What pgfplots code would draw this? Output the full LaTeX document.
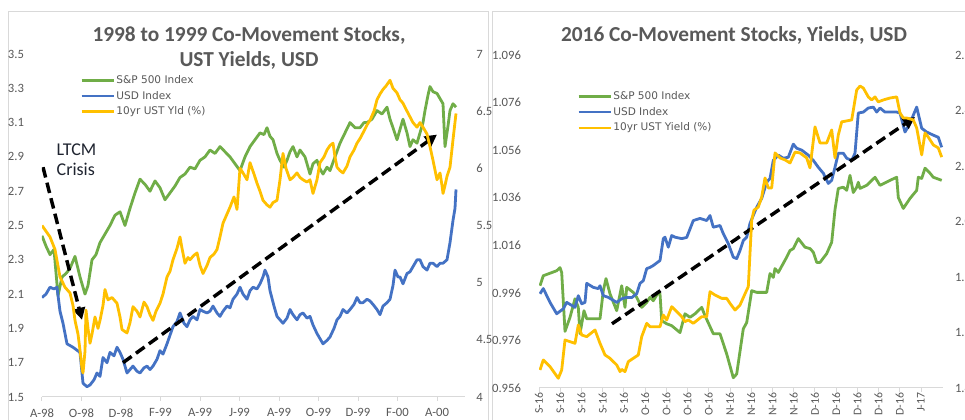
\documentclass[border=0pt]{standalone}
\usepackage{fontspec}
\setmainfont{Carlito}
\newfontfamily\legfont{DejaVu Sans}
\usepackage{pgfplots}
\pgfplotsset{compat=1.18}
\usetikzlibrary{arrows.meta}
\definecolor{spgreen}{HTML}{70AD47}
\definecolor{usdblue}{HTML}{4472C4}
\definecolor{yldorange}{HTML}{FFC000}
\definecolor{txtgray}{HTML}{595959}
\definecolor{axgray}{HTML}{D9D9D9}
\definecolor{annot}{HTML}{1F2430}

\pgfplotsset{
  base/.style={
    scale only axis,
    anchor=south west,
    tick label style={font=\fontsize{9.5}{11}\selectfont, text=txtgray},
    /pgf/number format/assume math mode=true,
    tick align=outside,
    major tick length=3pt,
    xtick style={draw=axgray, line width=0.75pt},
    ytick style={draw=none},
    axis line style={draw=axgray, line width=0.75pt},
    every axis plot/.append style={line width=2.1pt, line join=round, mark=none},
    legend style={draw=none, fill=none, font=\legfont\fontsize{7.9}{9}\selectfont, text=txtgray,
      legend cell align=left, inner sep=0pt, row sep=2.4pt,
      nodes={inner sep=1pt, text height=6pt, text depth=1.5pt}},
    legend image code/.code={\draw[#1, line width=2.1pt] (0pt,0pt) -- (24pt,0pt);},
  },
  leftpanel/.style={base, at={(31.5pt,17.25pt)}, width=317.25pt, height=257.25pt, xmin=0, xmax=423},
  rightpanel/.style={base, at={(404.25pt,24pt)}, width=303pt, height=249.75pt, xmin=0, xmax=404},
  fmt/.style={/pgf/number format/fixed, /pgf/number format/fixed zerofill, /pgf/number format/precision=#1},
}

\begin{document}
\begin{tikzpicture}
\useasboundingbox (0pt,0pt) rectangle (723.75pt,315pt);
\clip (0pt,0pt) rectangle (723.75pt,315pt);
\fill[white] (0pt,0pt) rectangle (723.75pt,315pt);
\begin{scope}[x=0.75pt,y=0.75pt]
\draw[axgray, line width=0.75pt] (8,-10) rectangle (488,408);
\draw[axgray, line width=0.75pt] (492,-10) rectangle (1000,408);
\node[font=\bfseries\fontsize{16}{18.75}\selectfont, text=txtgray, align=center] at (249,372.5)
  {1998 to 1999 Co-Movement Stocks,\\UST Yields, USD};
\node[font=\bfseries\fontsize{16}{18.75}\selectfont, text=txtgray] at (734,385) {2016 Co-Movement Stocks, Yields, USD};
\node[font=\fontsize{13.5}{15}\selectfont, text=annot, align=left, anchor=north west] at (52,281) {LTCM\\Crisis};
\end{scope}

% ---------------- Left panel ----------------
\begin{axis}[leftpanel,
  ymin=1.5, ymax=3.5,
  axis x line*=bottom, axis y line*=left, y axis line style={draw=none},
  ytick={1.5,1.7,1.9,2.1,2.3,2.5,2.7,2.9,3.1,3.3,3.5},
  y tick label style={fmt=1, xshift=-7pt},
  xtick={0,39.5,79,118.5,158,197.5,237,276.5,316,355.5,395},
  xticklabels={A-98,O-98,D-98,F-99,A-99,J-99,A-99,O-99,D-99,F-00,A-00},
  x tick label style={yshift=-2pt},
  legend style={at={(0.09,0.943)}, anchor=north west},
]
\addplot[spgreen] coordinates {
(0,2.44)(4,2.38)(8,2.33)(12,2.36)(16,2.09)(20,2.2)(24,2.22)(28,2.25)(33,2.32)(38,2.2)
(43,2.1)(46,2.15)(50,2.3)(54,2.33)(58,2.4)(63,2.45)(68,2.5)(73,2.56)(78,2.58)(83,2.5)
(88,2.6)(93,2.69)(98,2.77)(103,2.74)(108,2.7)(113,2.76)(118,2.72)(123,2.65)(128,2.69)(133,2.73)
(138,2.78)(143,2.8)(148,2.84)(153,2.83)(158,2.88)(163,2.9)(168,2.94)(173,2.92)(178,2.96)(183,2.93)
(188,2.9)(193,2.86)(198,2.82)(203,2.9)(208,2.96)(213,3.0)(218,3.04)(222,3.03)(225,3.07)(228,3.02)
(231,3.0)(235,2.92)(238,2.88)(242,2.84)(245,2.88)(248,2.93)(251,2.96)(255,2.9)(258,2.94)(263,2.9)
(268,2.8)(271,2.86)(275,2.88)(278,2.83)(281,2.8)(285,2.84)(288,2.82)(293,2.9)(298,2.98)(303,3.04)
(308,3.1)(313,3.07)(318,3.07)(322,3.1)(325,3.1)(330,3.12)(335,3.17)(340,3.15)(345,3.19)(348,3.12)
(351,3.07)(355,3.0)(358,3.06)(361,3.12)(365,3.04)(368,2.96)(371,3.0)(375,2.98)(378,3.04)(381,3.1)
(383,3.17)(386,3.26)(388,3.31)(391,3.28)(395,3.27)(398,3.24)(401,3.21)(403,2.96)(406,3.08)(408,3.17)
(411,3.21)(414,3.19)};
\addlegendentry{S\&P 500 Index}
\addplot[usdblue] coordinates {
(0,2.08)(4,2.1)(8,2.14)(12,2.13)(15,2.14)(18,2.0)(21,1.93)(25,1.81)(31,1.79)(38,1.76)
(41,1.58)(45,1.56)(48,1.57)(52,1.6)(55,1.64)(58,1.62)(61,1.73)(65,1.7)(68,1.76)(72,1.74)
(75,1.79)(78,1.76)(81,1.72)(85,1.64)(88,1.66)(91,1.68)(95,1.65)(98,1.64)(102,1.67)(105,1.68)
(108,1.66)(111,1.68)(115,1.72)(118,1.77)(121,1.75)(125,1.81)(128,1.86)(131,1.91)(135,1.94)(138,1.99)
(142,1.93)(145,1.91)(148,1.95)(151,1.97)(155,1.95)(158,2.01)(161,2.0)(165,1.99)(168,2.0)(171,2.03)
(175,1.99)(178,1.97)(181,2.0)(185,2.03)(188,2.02)(191,2.07)(195,2.1)(198,2.14)(201,2.1)(205,2.07)
(208,2.12)(211,2.14)(215,2.13)(218,2.16)(221,2.2)(223,2.24)(226,2.2)(228,2.12)(232,2.03)(235,1.97)
(238,1.95)(241,1.93)(245,1.96)(248,2.01)(251,1.98)(255,1.95)(258,1.98)(261,1.99)(265,1.96)(268,1.97)
(271,1.92)(275,1.87)(278,1.84)(281,1.81)(285,1.83)(288,1.85)(292,1.9)(295,1.95)(298,1.97)(301,2.01)
(305,1.99)(308,2.01)(312,2.04)(315,2.08)(318,2.05)(321,2.05)(325,2.07)(328,2.06)(331,2.04)(335,2.01)
(338,1.98)(341,2.03)(345,2.05)(348,2.07)(351,2.15)(353,2.24)(356,2.2)(358,2.2)(361,2.16)(365,2.22)
(368,2.23)(371,2.26)(375,2.3)(378,2.3)(381,2.26)(385,2.24)(388,2.28)(391,2.28)(395,2.26)(398,2.28)
(401,2.28)(405,2.3)(408,2.4)(411,2.53)(413,2.6)(414,2.71)};
\addlegendentry{USD Index}
\addlegendimage{yldorange}
\addlegendentry{10yr UST Yld (\%)}
\draw[black, line width=2.6pt, dash pattern=on 8pt off 4pt, -{Triangle[length=9pt,width=9pt]}]
  (axis cs:1,2.84) -- (axis cs:40,1.95);
\draw[black, line width=2.6pt, dash pattern=on 8pt off 4pt, -{Triangle[length=9pt,width=9pt]}]
  (axis cs:81,1.70) -- (axis cs:395,3.03);
\end{axis}
\begin{axis}[leftpanel,
  ymin=4, ymax=7,
  axis x line=none, axis y line*=right, y axis line style={draw=none},
  ytick={4,4.5,5,5.5,6,6.5,7},
  y tick label style={xshift=2pt},
]
\addplot[yldorange] coordinates {
(0,5.5)(4,5.45)(8,5.4)(13,5.29)(18,5.05)(23,4.96)(28,4.91)(31,4.8)(33,4.67)(36,4.55)
(38,4.41)(40,4.25)(41,4.21)(43,4.4)(44,4.76)(46,4.6)(48,4.47)(50,4.55)(53,4.7)(56,4.6)
(58,4.67)(61,4.8)(63,4.94)(66,4.85)(70,4.87)(75,4.82)(78,4.7)(80,4.59)(85,4.56)(88,4.65)
(91,4.79)(95,4.75)(98,4.7)(102,4.83)(105,4.79)(108,4.72)(111,4.67)(114,4.75)(118,4.82)(121,4.9)
(125,5.05)(128,5.1)(131,5.2)(135,5.3)(138,5.4)(140,5.3)(143,5.17)(146,5.22)(148,5.2)(152,5.24)
(155,5.26)(158,5.15)(161,5.08)(165,5.15)(168,5.22)(172,5.25)(175,5.29)(178,5.4)(181,5.52)(185,5.6)
(188,5.66)(192,5.75)(195,5.64)(198,6.0)(201,5.96)(205,5.9)(208,6.05)(212,5.95)(215,5.87)(218,5.8)
(221,5.72)(225,5.68)(228,5.66)(231,5.7)(235,5.72)(238,5.9)(241,6.13)(244,6.0)(248,5.9)(251,5.92)
(255,5.96)(258,5.92)(261,5.9)(265,5.88)(268,5.9)(271,5.78)(275,5.9)(278,6.05)(282,6.1)(285,6.16)
(288,6.2)(291,6.22)(293,6.1)(295,6.01)(298,5.98)(301,5.96)(305,6.02)(308,6.1)(312,6.16)(315,6.22)
(318,6.26)(321,6.31)(325,6.38)(328,6.42)(332,6.5)(335,6.6)(338,6.65)(341,6.69)(344,6.72)(348,6.77)
(351,6.7)(355,6.66)(358,6.6)(361,6.57)(365,6.5)(368,6.45)(371,6.4)(375,6.36)(378,6.4)(381,6.36)
(385,6.3)(388,6.19)(391,6.07)(395,5.9)(398,5.96)(400,5.85)(401,5.78)(403,5.85)(405,5.93)(408,6.01)
(411,6.25)(414,6.48)};
\end{axis}

% ---------------- Right panel ----------------
\begin{axis}[rightpanel,
  ymin=0.956, ymax=1.096,
  axis x line*=bottom, axis y line*=left, y axis line style={draw=none},
  ytick={0.956,0.976,0.996,1.016,1.036,1.056,1.076,1.096},
  y tick label style={fmt=3, xshift=-7pt},
  xtick={0,21.22,42.44,63.67,84.89,106.11,127.33,148.56,169.78,191,212.22,233.44,254.67,275.89,297.11,318.33,339.56,360.78,382},
  xticklabels={S-16,S-16,S-16,S-16,S-16,O-16,O-16,O-16,O-16,N-16,N-16,N-16,N-16,D-16,D-16,D-16,D-16,D-16,J-17},
  x tick label style={yshift=3pt, rotate=90, anchor=east, font=\fontsize{8.8}{10}\selectfont},
  legend style={at={(0.094,0.896)}, anchor=north west},
]
\addplot[spgreen] coordinates {
(1,0.999)(4.3,1.0032)(17.7,1.0053)(21,1.0066)(22.7,1.0045)(26,0.9798)(31,0.9857)(36,0.9935)(39.3,0.9899)(41,0.9788)
(45,0.9885)(47.7,0.9851)(61,0.9851)(64.3,0.9969)(67,1.002)(71,0.9956)(77.7,0.9885)(82.7,0.999)(86,0.9899)(87.7,0.9983)
(94.3,0.9962)(97.7,0.9941)(102.7,0.9899)(107.7,0.992)(111,0.9941)(114.3,0.9927)(119.3,0.9962)(121,0.9956)(122.7,0.9843)(127.7,0.983)
(132.7,0.9822)(141,0.9793)(146,0.9872)(151,0.9857)(156,0.9872)(162.7,0.9899)(166,0.9864)(174.3,0.9788)(181,0.9788)(187.7,0.9703)
(194.3,0.9603)(197.7,0.9619)(204.3,0.9809)(207.7,0.9835)(212.7,0.9969)(217.7,0.9962)(227.7,0.9962)(231,1.0041)(234.3,1.0025)(236,1.0062)
(239.3,1.0046)(247.7,1.011)(251,1.0138)(254.3,1.0146)(259.3,1.0188)(266,1.0152)(271,1.0146)(274.3,1.0131)(277.7,1.0088)(281,1.0088)
(287.7,1.0125)(292.7,1.0173)(296,1.031)(299.3,1.0399)(304.3,1.0404)(307.7,1.0391)(311,1.0454)(314.3,1.0382)(317.7,1.0404)(319.3,1.0425)
(321,1.0399)(327.7,1.0412)(336,1.0446)(341,1.0412)(351,1.0433)(357.7,1.0446)(359.3,1.0361)(364.3,1.0315)(371,1.0357)(377.7,1.0391)
(379.3,1.0446)(382.7,1.0441)(386,1.0484)(391,1.0463)(394.3,1.0446)(402.7,1.0433)};
\addlegendentry{S\&P 500 Index}
\addplot[usdblue] coordinates {
(1,0.9956)(4.3,0.9978)(11,0.992)(17.7,0.9872)(24.3,0.9893)(27.7,0.992)(36,0.9899)(39.3,0.9948)(42.7,0.9914)(46,0.992)
(47.7,1.0)(54.3,0.9983)(59.3,0.9978)(61,0.999)(64.3,0.9948)(69.3,0.9941)(77.7,0.992)(82.7,0.9935)(87.7,0.9941)(92.7,0.994)
(97.7,0.9956)(101,1.0)(104.3,1.0011)(107.7,1.0062)(111,1.0067)(114.3,1.0075)(121,1.0096)(124.3,1.0188)(126,1.0194)(129.3,1.0152)
(132.7,1.0201)(136,1.0194)(142.7,1.0188)(147.7,1.0193)(154.3,1.0264)(161,1.0273)(167.7,1.0264)(171,1.0285)(174.3,1.0236)(181,1.0243)
(184.3,1.0209)(189.3,1.0167)(194.3,1.011)(197.7,1.0104)(201,1.0138)(204.3,1.018)(207.7,1.0194)(211,1.0252)(217.7,1.032)(222.7,1.0357)
(227.7,1.0425)(231,1.0441)(234.3,1.0517)(239.3,1.0539)(244.3,1.0526)(249.3,1.053)(254.3,1.0585)(257.7,1.0568)(262.7,1.056)(269.3,1.0539)
(274.3,1.0517)(279.3,1.0488)(284.3,1.0463)(289.3,1.042)(292.7,1.0433)(296,1.0488)(299.3,1.0547)(304.3,1.0547)(307.7,1.0526)(312.7,1.0517)
(316,1.0547)(319.3,1.0716)(324.3,1.072)(329.3,1.0737)(334.3,1.0741)(337.7,1.072)(341,1.0737)(346,1.072)(357.7,1.072)(361,1.0716)
(366,1.0636)(371,1.0673)(374.3,1.0707)(377.7,1.0741)(382.7,1.0652)(387.7,1.0636)(394.3,1.0623)(399.3,1.0614)(402.7,1.0572)};
\addlegendentry{USD Index}
\addlegendimage{yldorange}
\addlegendentry{10yr UST Yield (\%)}
\draw[black, line width=2.6pt, dash pattern=on 8pt off 4pt, -{Triangle[length=9pt,width=9pt]}]
  (axis cs:73,0.983) -- (axis cs:376,1.0699);
\end{axis}
\begin{axis}[rightpanel,
  ymin=1.4, ymax=2.6,
  axis x line=none, axis y line*=right, y axis line style={draw=none},
  ytick={1.4,1.6,1.8,2.0,2.2,2.4,2.6},
  y tick label style={fmt=1, xshift=2.5pt},
]
\addplot[yldorange] coordinates {
(1,1.465)(4.3,1.501)(11,1.477)(19.3,1.435)(22.7,1.465)(26,1.573)(31,1.567)(36,1.561)(39.3,1.627)(42.7,1.591)
(47.7,1.585)(56,1.609)(61,1.561)(66,1.519)(71,1.507)(77.7,1.483)(81,1.459)(82.7,1.467)(86,1.459)(89.3,1.495)
(94.3,1.507)(99.3,1.519)(102.7,1.585)(107.7,1.633)(111,1.621)(121,1.621)(124.3,1.663)(127.7,1.645)(132.7,1.693)(137.7,1.675)
(142.7,1.657)(146,1.639)(149.3,1.645)(154.3,1.633)(162.7,1.657)(167.7,1.657)(171,1.747)(176,1.735)(182.7,1.723)(187.7,1.723)
(191,1.705)(196,1.681)(201,1.699)(207.7,1.753)(209.3,1.765)(212.7,2.005)(215,2.041)(219.3,2.052)(222.7,2.088)(226,2.157)
(229.3,2.121)(232.7,2.121)(236,2.247)(241,2.229)(246,2.222)(251,2.211)(256,2.25)(261,2.247)(267.7,2.229)(271,2.193)
(276,2.341)(281,2.283)(287.7,2.283)(292.7,2.33)(296,2.229)(299.3,2.312)(302.7,2.359)(312.7,2.366)(316,2.438)(317.7,2.474)
(321,2.488)(324.3,2.481)(329.3,2.449)(332.7,2.438)(336,2.449)(339.3,2.431)(344.3,2.438)(351,2.445)(357.7,2.449)(361,2.391)
(364.3,2.373)(367.7,2.373)(374.3,2.366)(377.7,2.337)(382.7,2.24)(386,2.319)(389.3,2.304)(394.3,2.276)(399.3,2.265)(402.7,2.232)};
\end{axis}
\end{tikzpicture}
\end{document}
